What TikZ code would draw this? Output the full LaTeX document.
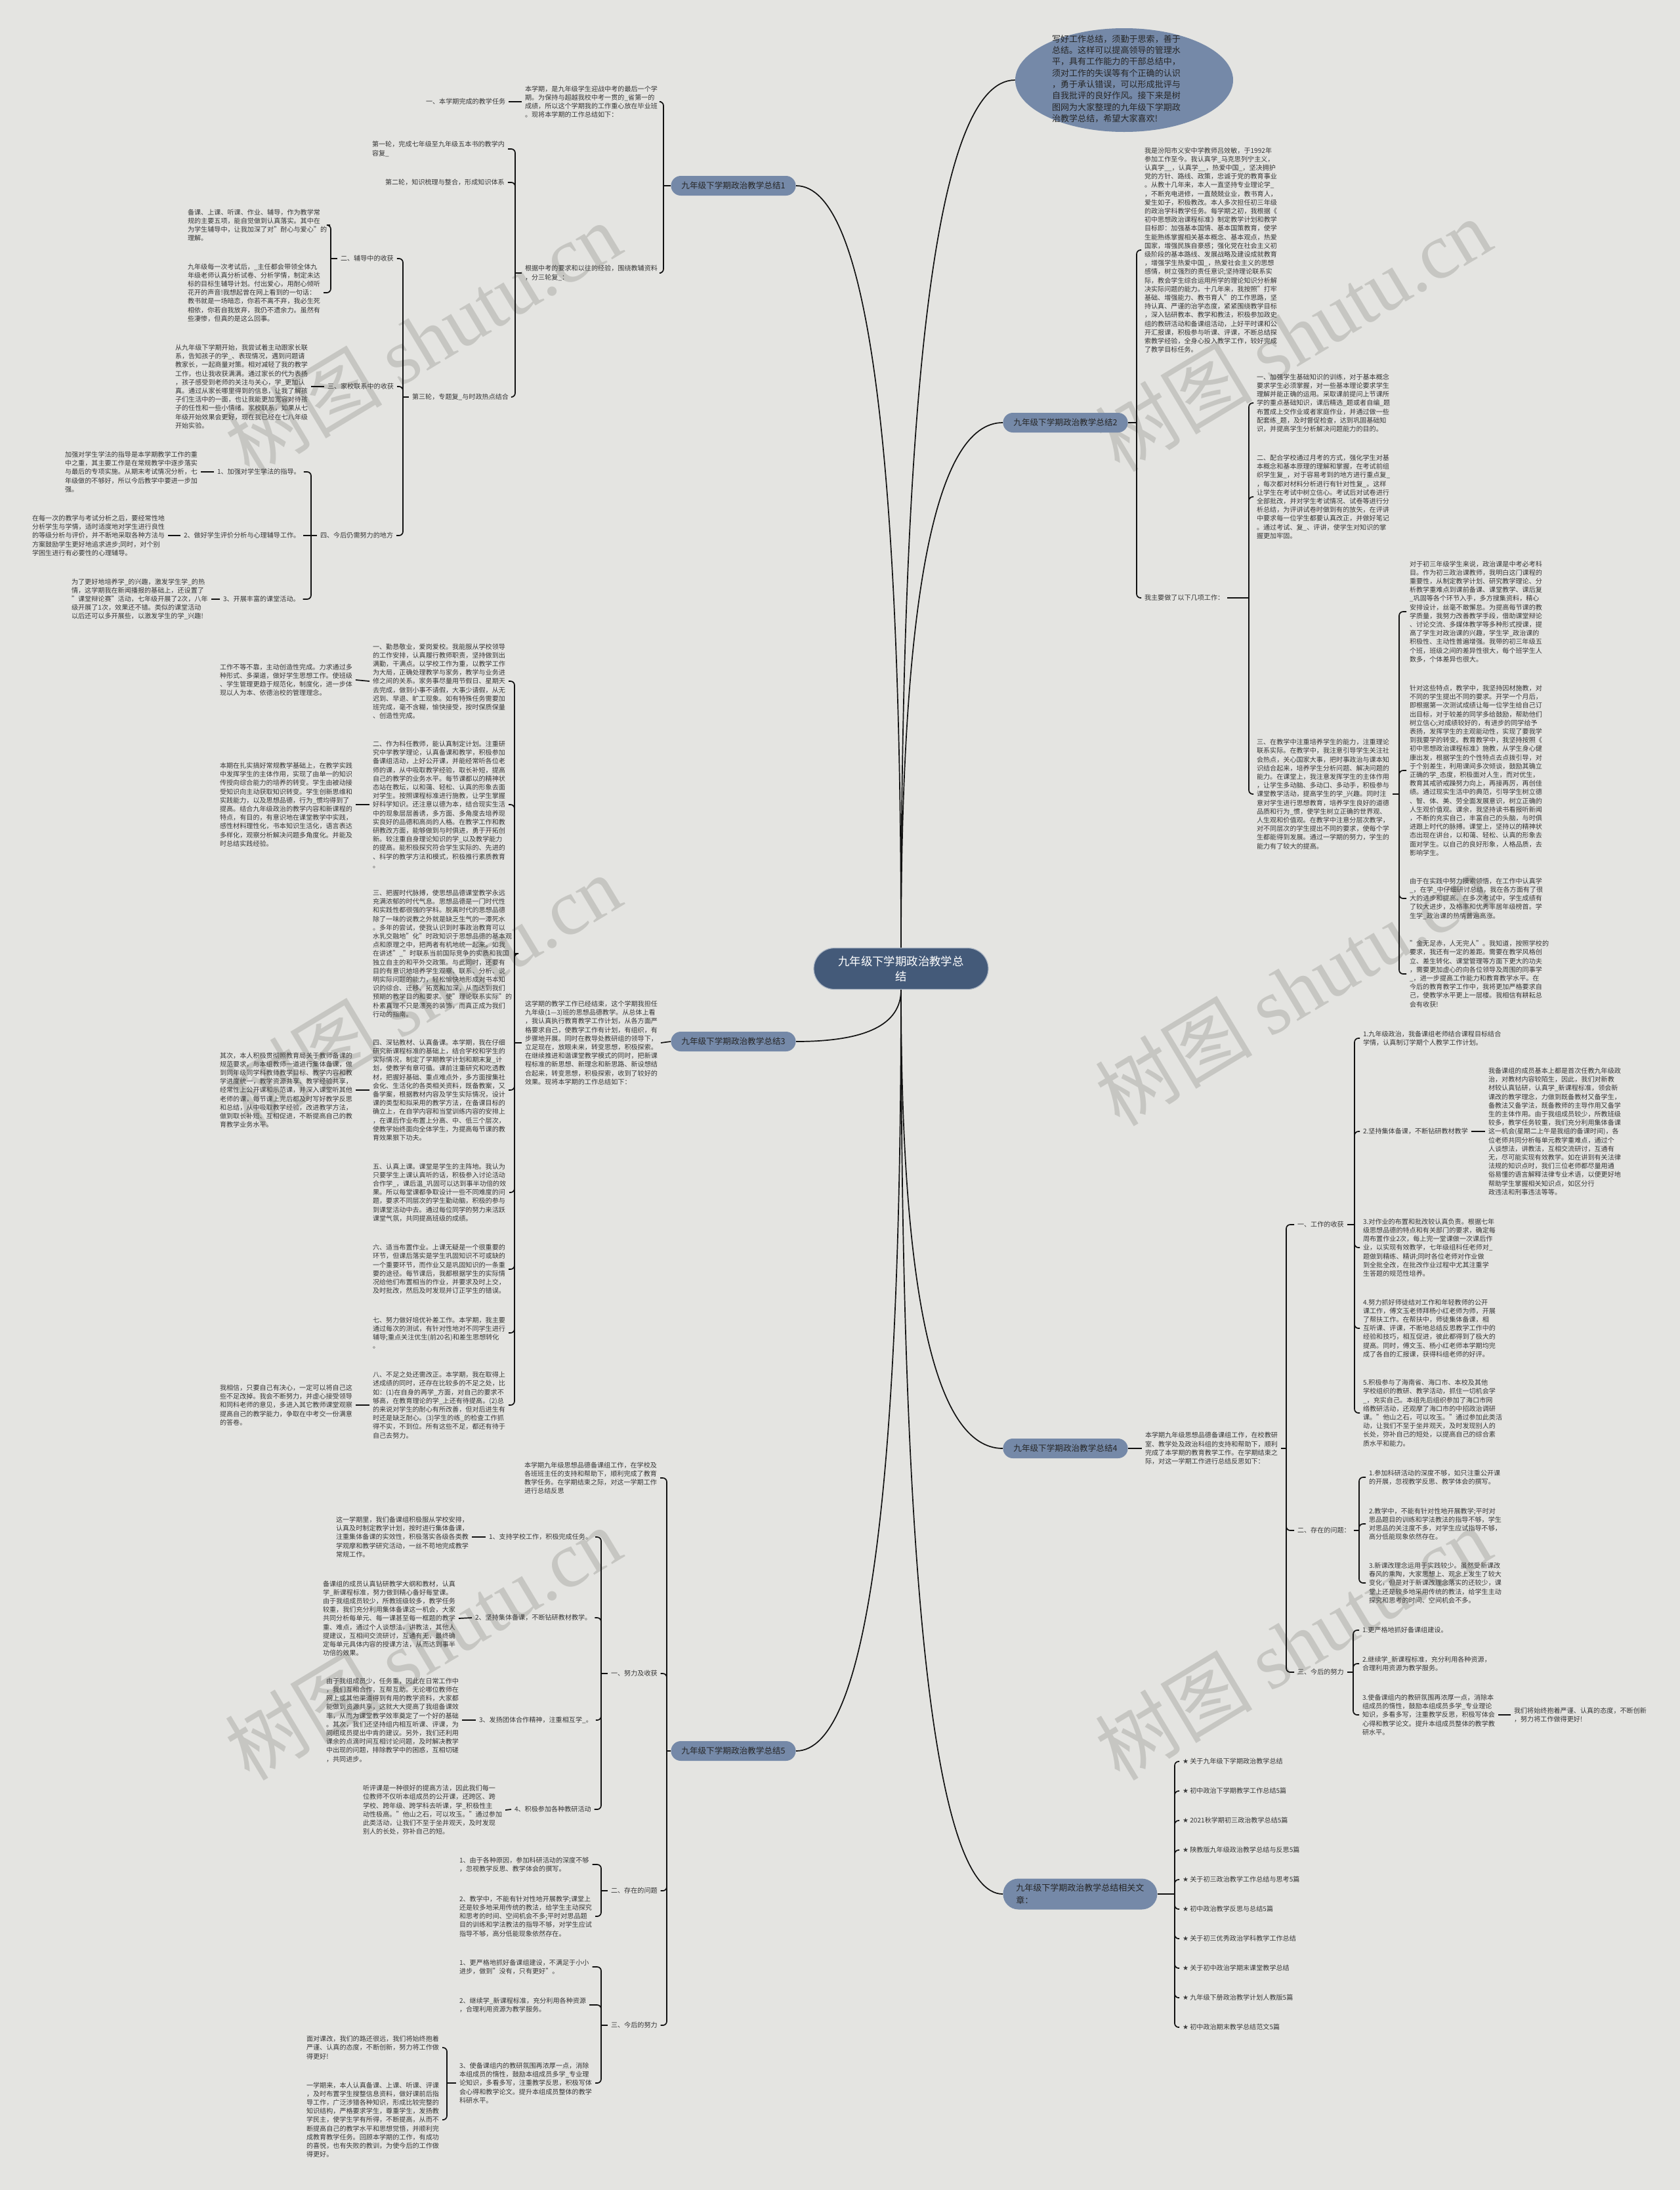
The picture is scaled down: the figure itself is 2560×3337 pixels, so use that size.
\documentclass[tikz,border=0pt]{standalone}
\usepackage{fontspec}
\setmainfont{Noto Sans CJK SC}
\newfontfamily\symf{DejaVu Sans}
\newfontfamily\wmlat{Liberation Serif}
\usetikzlibrary{shapes.geometric}
\definecolor{bgc}{HTML}{E4E4E1}
\definecolor{tcol}{HTML}{363636}
\definecolor{linec}{HTML}{111111}
\definecolor{pillc}{HTML}{7589A8}
\definecolor{pilltxt}{HTML}{262626}
\definecolor{centc}{HTML}{445A79}
\definecolor{wmc}{HTML}{C6C6C2}
\tikzset{
 txt/.style={inner sep=0pt, outer sep=2.5pt, xshift=-2.5pt, anchor=west, align=left, text=tcol, font=\fontsize{5.05}{6.6}\selectfont},
 pill/.style={rounded corners=7.5pt, fill=pillc, minimum height=15pt, inner xsep=8pt, inner ysep=0pt, text=pilltxt, font=\fontsize{6.3}{9.8}\selectfont, align=left},
 pilltwo/.style={rounded corners=11.75pt, fill=pillc, minimum height=23.5pt, inner xsep=10pt, inner ysep=2pt, text=pilltxt, font=\fontsize{6.5}{9.6}\selectfont, align=left},
 cnode/.style={fill=centc, draw=white!55!centc, line width=0.6pt, rounded corners=15.75pt, minimum width=133pt, minimum height=31.5pt, text=white, font=\fontsize{8.7}{11.65}\selectfont, align=center},
 conn/.style={draw=linec, line width=0.85pt, rounded corners=3pt},
 mconn/.style={draw=linec, line width=0.85pt},
 wm/.style={rotate=31, text=wmc, font=\fontsize{60}{60}\selectfont, inner sep=0pt},
}
\newcommand\lkL[2]{\draw[conn] (#1) -- (#1 |- #2.east) -- (#2.east);}
\newcommand\lkR[2]{\draw[conn] (#1) -- (#1 |- #2.west) -- (#2.west);}
\begin{document}
\begin{tikzpicture}[x=0.5pt,y=-0.5pt]
\useasboundingbox (0,0) rectangle (2560,3337);
\fill[bgc] (0,0) rectangle (2560,3337);
% watermarks
\node[wm] (w1) at (644,516) {树图 {\wmlat shutu.cn}};
\node[wm] (w2) at (644,1510) {树图 {\wmlat shutu.cn}};
\node[wm] (w3) at (644,2504) {树图 {\wmlat shutu.cn}};
\node[wm] (w4) at (1970,510) {树图 {\wmlat shutu.cn}};
\node[wm] (w5) at (1970,1507) {树图 {\wmlat shutu.cn}};
\node[wm] (w6) at (1970,2504) {树图 {\wmlat shutu.cn}};

% center and branches
\node[cnode] (C) at (1373,1476) {九年级下学期政治教学总\\结};
\node[ellipse, fill=pillc, minimum width=166pt, minimum height=79pt, inner sep=0pt] (E) at (1713,122) {};
\node[inner sep=0pt, align=left, text=pilltxt, font=\fontsize{6.53}{8.65}\selectfont] (Et) at (1701,120) {写好工作总结，须勤于思索，善于\\%
总结。这样可以提高领导的管理水\\%
平，具有工作能力的干部总结中，\\%
须对工作的失误等有个正确的认识\\%
，勇于承认错误，可以形成批评与\\%
自我批评的良好作风。接下来是树\\%
图网为大家整理的九年级下学期政\\%
治教学总结，希望大家喜欢!};
\node[pill, anchor=east] (B1) at (1213,283) {九年级下学期政治教学总结1};
\node[pill, anchor=west] (B2) at (1528,644) {九年级下学期政治教学总结2};
\node[pill, anchor=east] (B3) at (1213,1587) {九年级下学期政治教学总结3};
\node[pill, anchor=west] (B4) at (1528,2207) {九年级下学期政治教学总结4};
\node[pill, anchor=east] (B5) at (1213,2668) {九年级下学期政治教学总结5};
\node[pilltwo, anchor=west] (BR) at (1528,2886) {九年级下学期政治教学总结相关文\\章：};

\draw[mconn] (C.north) .. controls (1373,578) and (1427,122) .. (E.west);
\draw[mconn] (C.north) .. controls (1373,670) and (1320,283) .. (B1.east);
\draw[mconn] (C.north) .. controls (1373,911) and (1425,644) .. (B2.west);
\draw[mconn] (C.south) .. controls (1373,1561) and (1320,1587) .. (B3.east);
\draw[mconn] (C.south) .. controls (1373,1974) and (1425,2207) .. (B4.west);
\draw[mconn] (C.south) .. controls (1373,2281) and (1320,2668) .. (B5.east);
\draw[mconn] (C.south) .. controls (1373,2427) and (1425,2886) .. (BR.west);

% ===== Branch 1 =====
\node[txt] (t1a) at (800,155) {本学期，是九年级学生迎战中考的最后一个学\\%
期。为保持与超越我校中考一贯的\_省第一的\\%
成绩，所以这个学期我的工作重心放在毕业班\\%
。现将本学期的工作总结如下：};
\node[txt] (l1a) at (649,155) {一、本学期完成的教学任务};
\draw[conn] (t1a.west) -- (l1a.east);
\node[txt] (t1b) at (800,416) {根据中考的要求和以往的经验，围绕教辅资料\\%
，分三轮复\_：};
\coordinate (j1) at (1011,283);
\draw[conn] (B1.west) -- (j1);
\lkL{j1}{t1a}
\lkL{j1}{t1b}
\node[txt] (l1b1) at (567,227) {第一轮，完成七年级至九年级五本书的教学内\\%
容复\_};
\node[txt] (l1b2) at (587,278) {第二轮，知识梳理与整合，形成知识体系};
\node[txt] (l1b3) at (628,605) {第三轮，专题复\_与时政热点结合};
\coordinate (j1b) at (785,416);
\draw[conn] (t1b.west) -- (j1b);
\lkL{j1b}{l1b1}
\lkL{j1b}{l1b2}
\lkL{j1b}{l1b3}
\node[txt] (l2) at (519,394) {二、辅导中的收获};
\node[txt] (l3) at (499,589) {三、家校联系中的收获};
\node[txt] (l4) at (488,816) {四、今后仍需努力的地方};
\coordinate (j1c) at (614,605);
\draw[conn] (l1b3.west) -- (j1c);
\lkL{j1c}{l2}
\lkL{j1c}{l3}
\lkL{j1c}{l4}
\node[txt] (t2a) at (286,343) {备课、上课、听课、作业、辅导，作为教学常\\%
规的主要五项，能自觉做到认真落实。其中在\\%
为学生辅导中，让我加深了对"耐心与爱心"的\\%
理解。};
\node[txt] (t2b) at (286,446) {九年级每一次考试后，\_主任都会带领全体九\\%
年级老师认真分析试卷、分析学情，制定未达\\%
标的目标生辅导计划。付出爱心，用耐心倾听\\%
花开的声音!我想起曾在网上看到的一句话：\\%
教书就是一场暗恋，你若不离不弃，我必生死\\%
相依，你若自我放弃，我仍不遗余力。虽然有\\%
些凄惨，但真的是这么回事。};
\coordinate (j2a) at (504,394);
\draw[conn] (l2.west) -- (j2a);
\lkL{j2a}{t2a}
\lkL{j2a}{t2b}
\node[txt] (t3) at (267,589) {从九年级下学期开始，我尝试着主动跟家长联\\%
系，告知孩子的学\_、表现情况，遇到问题请\\%
教家长，一起商量对策。相对减轻了我的教学\\%
工作，也让我收获满满。通过家长的代为表扬\\%
，孩子感受到老师的关注与关心，学\_更加认\\%
真。通过从家长哪里得到的信息，让我了解孩\\%
子们生活中的一面，也让我能更加宽容对待孩\\%
子的任性和一些小情绪。家校联系，如果从七\\%
年级开始效果会更好，现在我已经在七八年级\\%
开始实验。};
\draw[conn] (l3.west) -- (t3.east);
\node[txt] (l4a) at (331,719) {1、加强对学生学法的指导。};
\node[txt] (l4b) at (280,816) {2、做好学生评价分析与心理辅导工作。};
\node[txt] (l4c) at (340,913) {3、开展丰富的课堂活动。};
\coordinate (j4a) at (474,816);
\draw[conn] (l4.west) -- (j4a);
\lkL{j4a}{l4a}
\draw[conn] (j4a) -- (l4b.east);
\lkL{j4a}{l4c}
\node[txt] (t4a) at (99,719) {加强对学生学法的指导是本学期教学工作的重\\%
中之重，其主要工作是在常规教学中逐步落实\\%
与最后的专项实施。从期末考试情况分析，七\\%
年级做的不够好，所以今后教学中要进一步加\\%
强。};
\draw[conn] (l4a.west) -- (t4a.east);
\node[txt] (t4b) at (49,816) {在每一次的教学与考试分析之后，要经常性地\\%
分析学生与学情，适时适度地对学生进行良性\\%
的等级分析与评价，并不断地采取各种方法与\\%
方案鼓励学生更好地追求进步;同时，对个别\\%
学困生进行有必要性的心理辅导。};
\draw[conn] (l4b.west) -- (t4b.east);
\node[txt] (t4c) at (109,913) {为了更好地培养学\_的兴趣，激发学生学\_的热\\%
情，这学期我在新闻播报的基础上，还设置了\\%
"课堂辩论赛"活动，七年级开展了2次，八年\\%
级开展了1次，效果还不错。类似的课堂活动\\%
以后还可以多开展些，以激发学生的学\_兴趣!};
\draw[conn] (l4c.west) -- (t4c.east);

% ===== Branch 3 =====
\node[txt] (t30) at (800,1589) {这学期的教学工作已经结束，这个学期我担任\\%
九年级(1—3)班的思想品德教学。从总体上看\\%
，我认真执行教育教学工作计划，从各方面严\\%
格要求自己，使教学工作有计划，有组织，有\\%
步骤地开展。同时在教导处教研组的领导下，\\%
立足现在，放眼未来，转变思想，积极探索。\\%
在继续推进和谐课堂教学模式的同时，把新课\\%
程标准的新思想、新理念和新思路、新设想结\\%
合起来，转变思想，积极探索，收到了较好的\\%
效果。现将本学期的工作总结如下：};
\draw[conn] (B3.west) -- (t30.east);
\coordinate (j3) at (784,1589);
\draw[conn] (t30.west) -- (j3);
\node[txt] (t31) at (568,1038) {一、勤恳敬业，爱岗爱校。我能服从学校领导\\%
的工作安排，认真履行教师职责，坚持做到出\\%
满勤，干满点。以学校工作为重，以教学工作\\%
为大局，正确处理教学与家务，教学与业务进\\%
修之间的关系。家务事尽量用节假日、星期天\\%
去完成，做到小事不请假，大事少请假，从无\\%
迟到、早退、旷工现象。如有特殊任务需要加\\%
班完成，毫不含糊，愉快接受，按时保质保量\\%
、创造性完成。};
\node[txt] (t32) at (568,1226) {二、作为科任教师，能认真制定计划。注重研\\%
究中学教学理论，认真备课和教学，积极参加\\%
备课组活动，上好公开课，并能经常听各位老\\%
师的课，从中吸取教学经验，取长补短，提高\\%
自己的教学的业务水平。每节课都以的精神状\\%
态站在教坛，以和蔼、轻松、认真的形象去面\\%
对学生。按照课程标准进行施教，让学生掌握\\%
好科学知识。还注意以德为本，结合现实生活\\%
中的现象层层善诱，多方面、多角度去培养现\\%
实良好的品德和高尚的人格。在教学工作和教\\%
研教改方面，能够做到与时俱进，勇于开拓创\\%
新。较注重自身理论知识的学\_以及教学能力\\%
的提高。能积极探究符合学生实际的、先进的\\%
、科学的教学方法和模式，积极推行素质教育\\%
。};
\node[txt] (t33) at (568,1453) {三、把握时代脉搏，使思想品德课堂教学永远\\%
充满浓郁的时代气息。思想品德是一门时代性\\%
和实践性都很强的学科。脱离时代的思想品德\\%
除了一味的说教之外就是缺乏生气的一潭死水\\%
。多年的尝试，使我认识到时事政治教育可以\\%
水乳交融地"化"时政知识于思想品德的基本观\\%
点和原理之中，把两者有机地统一起来。如我\\%
在讲述"\_"时联系当前国际竞争的实质和我国\\%
独立自主的和平外交政策。与此同时，还要有\\%
目的有意识地培养学生观察、联系、分析、说\\%
明实际问题的能力，轻松愉快地形成对书本知\\%
识的综合、迁移、拓宽和加深，从而达到我们\\%
预期的教学目的和要求。使"理论联系实际"的\\%
朴素真理不只是漂亮的装饰，而真正成为我们\\%
行动的指南。};
\node[txt] (t34) at (568,1661) {四、深钻教材、认真备课。本学期，我在仔细\\%
研究新课程标准的基础上，结合学校和学生的\\%
实际情况，制定了学期教学计划和期末复\_计\\%
划，使教学有章可循。课前注重研究和吃透教\\%
材，把握好基础、重点难点外，多方面搜集社\\%
会化、生活化的各类相关资料，既备教案，又\\%
备学案，根据教材内容及学生实际情况，设计\\%
课的类型和拟采用的教学方法，在备课目标的\\%
确立上，在自学内容和当堂训练内容的安排上\\%
，在课后作业布置上分高、中、低三个层次，\\%
使教学始终面向全体学生，为提高每节课的教\\%
育效果狠下功夫。};
\node[txt] (t35) at (568,1817) {五、认真上课。课堂是学生的主阵地。我认为\\%
只要学生上课认真听的话，积极参入讨论活动\\%
合作学\_，课后温\_巩固可以达到事半功倍的效\\%
果。所以每堂课都争取设计一些不同难度的问\\%
题，要求不同层次的学生勤动脑，积极的参与\\%
到课堂活动中去。通过每位同学的努力来活跃\\%
课堂气氛，共同提高班级的成绩。};
\node[txt] (t36) at (568,1934) {六、适当布置作业。上课无疑是一个很重要的\\%
环节，但课后落实是学生巩固知识不可或缺的\\%
一个重要环节，而作业又是巩固知识的一条重\\%
要的途径。每节课后，我都根据学生的实际情\\%
况给他们布置相当的作业，并要求及时上交，\\%
及时批改，然后及时发现并订正学生的错误。};
\node[txt] (t37) at (568,2031) {七、努力做好培优补差工作。本学期，我主要\\%
通过每次的测试，有针对性地对不同学生进行\\%
辅导;重点关注优生(前20名)和差生思想转化\\%
。};
\node[txt] (t38) at (568,2141) {八、不足之处还需改正。本学期，我在取得上\\%
述成绩的同时，还存在比较多的不足之处，比\\%
如：(1)在自身的再学\_方面，对自己的要求不\\%
够高，在教育理论的学\_上还有待提高。(2)总\\%
的来说对学生的耐心有所改善，但对后进生有\\%
时还是缺乏耐心。(3)学生的练\_的检查工作抓\\%
得不实，不到位。所有这些不足，都还有待于\\%
自己去努力。};
\lkL{j3}{t31}
\lkL{j3}{t32}
\lkL{j3}{t33}
\lkL{j3}{t34}
\lkL{j3}{t35}
\lkL{j3}{t36}
\lkL{j3}{t37}
\lkL{j3}{t38}
\node[txt] (u31) at (335,1036) {工作不等不靠，主动创造性完成。力求通过多\\%
种形式、多渠道，做好学生思想工作。使班级\\%
、学生管理更趋于规范化，制度化，进一步体\\%
现以人为本、依德治校的管理理念。};
\draw[conn] (t31.west) -- (u31.east);
\node[txt] (u32) at (335,1226) {本期在扎实搞好常规教学基础上，在教学实践\\%
中发挥学生的主体作用，实现了由单一的知识\\%
传授向综合能力的培养的转变。学生由被动接\\%
受知识向主动获取知识转变。学生创新思维和\\%
实践能力，以及思想品德，行为\_惯均得到了\\%
提高。结合九年级政治的教学内容和新课程的\\%
特点，有目的，有意识地在课堂教学中实践，\\%
感性材料理性化，书本知识生活化，语言表达\\%
多样化，观察分析解决问题多角度化。并能及\\%
时总结实践经验。};
\draw[conn] (t32.west) -- (u32.east);
\node[txt] (u34) at (335,1661) {其次，本人积极贯彻照教育局关于教师备课的\\%
规范要求，与本组教师一道进行集体备课，做\\%
到同年级同学科教师教学目标、教学内容和教\\%
学进度统一，教学资源共享、教学经验共享，\\%
经常性上公开课和示范课，并深入课堂听其他\\%
老师的课，每节课上完后都及时写好教学反思\\%
和总结，从中吸取教学经验，改进教学方法，\\%
做到取长补短、互相促进，不断提高自己的教\\%
育教学业务水平。};
\draw[conn] (t34.west) -- (u34.east);
\node[txt] (u38) at (335,2141) {我相信，只要自己有决心，一定可以将自己这\\%
些不足改掉。我会不断努力，并虚心接受领导\\%
和同科老师的意见，多进入其它教师课堂观察\\%
提高自己的教学能力，争取在中考交一份满意\\%
的答卷。};
\draw[conn] (t38.west) -- (u38.east);

% ===== Branch 5 =====
\coordinate (j5) at (1016,2668);
\draw[conn] (B5.west) -- (j5);
\node[txt] (t50) at (799,2252) {本学期九年级思想品德备课组工作，在学校及\\%
各班班主任的支持和帮助下，顺利完成了教育\\%
教学任务。在学期结束之际，对这一学期工作\\%
进行总结反思};
\node[txt] (l51) at (931,2550) {一、努力及收获};
\node[txt] (l52) at (931,2881) {二、存在的问题};
\node[txt] (l53) at (931,3086) {三、今后的努力};
\lkL{j5}{t50}
\lkL{j5}{l51}
\lkL{j5}{l52}
\lkL{j5}{l53}
\coordinate (j51) at (916,2550);
\draw[conn] (l51.west) -- (j51);
\node[txt] (m1) at (745,2342) {1、支持学校工作，积极完成任务。};
\node[txt] (m2) at (724,2465) {2、坚持集体备课，不断钻研教材教学。};
\node[txt] (m3) at (730,2621) {3、发扬团体合作精神，注重相互学\_。};
\node[txt] (m4) at (784,2757) {4、积极参加各种教研活动};
\lkL{j51}{m1}
\lkL{j51}{m2}
\lkL{j51}{m3}
\lkL{j51}{m4}
\node[txt] (u1) at (512,2342) {这一学期里，我们备课组积极服从学校安排，\\%
认真及时制定教学计划，按时进行集体备课，\\%
注重集体备课的实效性，积极落实各级各类教\\%
学观摩和教学研究活动，一丝不苟地完成教学\\%
常规工作。};
\draw[conn] (m1.west) -- (u1.east);
\node[txt] (u2) at (492,2466) {备课组的成员认真钻研教学大纲和教材，认真\\%
学\_新课程标准，努力做到精心备好每堂课。\\%
由于我组成员较少，所教班级较多，教学任务\\%
较重，我们充分利用集体备课这一机会，大家\\%
共同分析每单元、每一课甚至每一框题的教学\\%
重、难点，通过个人谈想法，讲教法，其他人\\%
提建议，互相间交流研讨，互通有无，最终确\\%
定每单元具体内容的授课方法，从而达到事半\\%
功倍的效果。};
\draw[conn] (m2.west) -- (u2.east);
\node[txt] (u3) at (497,2621) {由于我组成员少，任务重，因此在日常工作中\\%
，我们互相合作，互帮互助。无论哪位教师在\\%
网上或其他渠道得到有用的教学资料，大家都\\%
能做到资源共享，这就大大提高了我组备课效\\%
率，从而为课堂教学效率奠定了一个好的基础\\%
。其次，我们还坚持组内相互听课、评课，为\\%
同组成员提出中肯的建议。另外，我们还利用\\%
课余的点滴时间互相讨论问题，及时解决教学\\%
中出现的问题，排除教学中的困惑，互相切磋\\%
，共同进步。};
\draw[conn] (m3.west) -- (u3.east);
\node[txt] (u4) at (553,2758) {听评课是一种很好的提高方法，因此我们每一\\%
位教师不仅听本组成员的公开课，还跨区、跨\\%
学校、跨年级、跨学科去听课，学\_积极性主\\%
动性极高。"他山之石，可以攻玉。"通过参加\\%
此类活动，让我们不至于坐井观天，及时发现\\%
别人的长处，弥补自己的短。};
\draw[conn] (m4.west) -- (u4.east);
\coordinate (j52) at (916,2881);
\draw[conn] (l52.west) -- (j52);
\node[txt] (n1) at (700,2841) {1、由于各种原因，参加科研活动的深度不够\\%
，忽视教学反思、教学体会的撰写。};
\node[txt] (n2) at (700,2920) {2、教学中，不能有针对性地开展教学;课堂上\\%
还是较多地采用传统的教法，给学生主动探究\\%
和思考的时间、空间机会不多;平时对思品题\\%
目的训练和学法教法的指导不够，对学生应试\\%
指导不够，高分低能现象依然存在。};
\lkL{j52}{n1}
\lkL{j52}{n2}
\coordinate (j53) at (916,3086);
\draw[conn] (l53.west) -- (j53);
\node[txt] (o1) at (700,2997) {1、更严格地抓好备课组建设，不满足于小小\\%
进步，做到"没有，只有更好"。};
\node[txt] (o2) at (700,3055) {2、继续学\_新课程标准，充分利用各种资源\\%
，合理利用资源为教学服务。};
\node[txt] (o3) at (700,3174) {3、使备课组内的教研氛围再浓厚一点，消除\\%
本组成员的惰性，鼓励本组成员多学\_专业理\\%
论知识，多看多写，注重教学反思，积极写体\\%
会心得和教学论文。提升本组成员整体的教学\\%
科研水平。};
\lkL{j53}{o1}
\lkL{j53}{o2}
\lkL{j53}{o3}
\coordinate (j53c) at (681,3174);
\draw[conn] (o3.west) -- (j53c);
\node[txt] (p1) at (467,3120) {面对课改，我们的路还很远，我们将始终抱着\\%
严谨、认真的态度，不断创新，努力将工作做\\%
得更好!};
\node[txt] (p2) at (467,3230) {一学期来，本人认真备课、上课、听课、评课\\%
，及时布置学生搜整信息资料，做好课前后指\\%
导工作，广泛涉猎各种知识，形成比较完整的\\%
知识结构，严格要求学生，尊重学生，发扬教\\%
学民主，使学生学有所得，不断提高，从而不\\%
断提高自己的教学水平和思想觉悟，并顺利完\\%
成教育教学任务。回顾本学期的工作，有成功\\%
的喜悦，也有失败的教训，为使今后的工作做\\%
得更好。};
\lkL{j53c}{p1}
\lkL{j53c}{p2}

% ===== Branch 2 =====
\coordinate (j2) at (1732,644);
\draw[conn] (B2.east) -- (j2);
\node[txt] (r1) at (1744,381) {我是汾阳市义安中学教师吕效敏，于1992年\\%
参加工作至今。我认真学\_马克思列宁主义，\\%
认真学\_\_，认真学\_\_，热爱中国\_，坚决拥护\\%
党的方针、路线、政策，忠诚于党的教育事业\\%
。从教十几年来，本人一直坚持专业理论学\_\\%
，不断充电进修，一直兢兢业业，教书育人，\\%
爱生如子，积极教改。本人多次担任初三年级\\%
的政治学科教学任务。每学期之初，我根据《\\%
初中思想政治课程标准》制定教学计划和教学\\%
目标即：加强基本国情、基本国策教育，使学\\%
生能熟练掌握相关基本概念、基本观点，热爱\\%
国家，增强民族自豪感；强化党在社会主义初\\%
级阶段的基本路线、发展战略及建设成就教育\\%
，增强学生热爱中国\_，热爱社会主义的思想\\%
感情，树立强烈的责任意识;坚持理论联系实\\%
际，教会学生综合运用所学的理论知识分析解\\%
决实际问题的能力。十几年来，我按照"打牢\\%
基础、增强能力、教书育人"的工作思路，坚\\%
持认真、严谨的治学态度，紧紧围绕教学目标\\%
，深入钻研教本、教学和教法，积极参加政史\\%
组的教研活动和备课组活动，上好平时课和公\\%
开汇报课，积极参与听课、评课，不断总结探\\%
索教学经验，全身心投入教学工作，较好完成\\%
了教学目标任务。};
\node[txt] (r2) at (1744,911) {我主要做了以下几项工作：};
\lkR{j2}{r1}
\lkR{j2}{r2}
\coordinate (j2b) at (1903,911);
\draw[conn] (r2.east) -- (j2b);
\node[txt] (s1) at (1915,614) {一、加强学生基础知识的训练，对于基本概念\\%
要求学生必须掌握，对一些基本理论要求学生\\%
理解并能正确的运用。采取课前提问上节课所\\%
学的重点基础知识，课后精选\_题或者自编\_题\\%
布置成上交作业或者家庭作业，并通过做一些\\%
配套练\_题，及时督促检查，达到巩固基础知\\%
识，并提高学生分析解决问题能力的目的。};
\node[txt] (s2) at (1915,757) {二、配合学校通过月考的方式，强化学生对基\\%
本概念和基本原理的理解和掌握，在考试前组\\%
织学生复\_，对于容易考到的地方进行重点复\_\\%
，每次都对材料分析进行有针对性复\_。这样\\%
让学生在考试中树立信心。考试后对试卷进行\\%
全部批改，并对学生考试情况、试卷等进行分\\%
析总结，为评讲试卷时做到有的放矢，在评讲\\%
中要求每一位学生都要认真改正，并做好笔记\\%
。通过考试、复\_、评讲，使学生对知识的掌\\%
握更加牢固。};
\node[txt] (s3) at (1915,1210) {三、在教学中注重培养学生的能力，注重理论\\%
联系实际。在教学中，我注意引导学生关注社\\%
会热点，关心国家大事，把时事政治与课本知\\%
识结合起来，培养学生分析问题、解决问题的\\%
能力。在课堂上，我注意发挥学生的主体作用\\%
，让学生多动脑、多动口、多动手，积极参与\\%
课堂教学活动，提高学生的学\_兴趣。同时注\\%
意对学生进行思想教育，培养学生良好的道德\\%
品质和行为\_惯，使学生树立正确的世界观、\\%
人生观和价值观。在教学中注意分层次教学，\\%
对不同层次的学生提出不同的要求，使每个学\\%
生都能得到发展。通过一学期的努力，学生的\\%
能力有了较大的提高。};
\lkR{j2b}{s1}
\lkR{j2b}{s2}
\lkR{j2b}{s3}
\coordinate (j2c) at (2132,1210);
\draw[conn] (s3.east) -- (j2c);
\node[txt] (v1) at (2148,932) {对于初三年级学生来说，政治课是中考必考科\\%
目。作为初三政治课教师，我明白这门课程的\\%
重要性，从制定教学计划、研究教学理论、分\\%
析教学重难点到课前备课、课堂教学、课后复\\%
\_巩固等各个环节入手，多方搜集资料，精心\\%
安排设计，丝毫不敢懈怠。为提高每节课的教\\%
学质量，我努力改善教学手段，借助课堂辩论\\%
、讨论交流、多媒体教学等多种形式授课，提\\%
高了学生对政治课的兴趣，学生学\_政治课的\\%
积极性、主动性普遍增强。我带的初三年级五\\%
个班，班级之间的差异性很大，每个班学生人\\%
数多，个体差异也很大。};
\node[txt] (v2) at (2148,1174) {针对这些特点，教学中，我坚持因材施教，对\\%
不同的学生提出不同的要求。开学一个月后，\\%
即根据第一次测试成绩让每一位学生给自己订\\%
出目标，对于较差的同学多给鼓励，帮助他们\\%
树立信心;对成绩较好的，有进步的同学给予\\%
表扬，发挥学生的主观能动性，实现了要我学\\%
到我要学的转变。教育教学中，我坚持按照《\\%
初中思想政治课程标准》施教，从学生身心健\\%
康出发，根据学生的个性特点去点拨引导，对\\%
于个别差生，利用课间多次倾谈，鼓励其确立\\%
正确的学\_态度，积极面对人生，而对优生，\\%
教育其戒骄戒躁努力向上，再接再厉，再创佳\\%
绩。通过现实生活中的典范，引导学生树立德\\%
、智、体、美、劳全面发展意识，树立正确的\\%
人生观价值观。课余，我坚持读书看报听新闻\\%
，不断的充实自己，丰富自己的头脑，与时俱\\%
进跟上时代的脉搏。课堂上，坚持以的精神状\\%
态出现在讲台，以和蔼、轻松、认真的形象去\\%
面对学生。以自己的良好形象，人格品质，去\\%
影响学生。};
\node[txt] (v3) at (2148,1369) {由于在实践中努力摸索领悟，在工作中认真学\\%
\_，在学\_中仔细研讨总结，我在各方面有了很\\%
大的进步和提高。在多次考试中，学生成绩有\\%
了较大进步，及格率和优秀率居年级榜首。学\\%
生学\_政治课的热情普遍高涨。};
\node[txt] (v4) at (2148,1484) {"金无足赤，人无完人"。我知道，按照学校的\\%
要求，我还有一定的差距。需要在教学风格创\\%
立、差生转化、课堂管理等方面下更大的功夫\\%
，需要更加虚心的向各位领导及周围的同事学\\%
\_，进一步提高工作能力和教育教学水平。在\\%
今后的教育教学工作中，我将更加严格要求自\\%
己，使教学水平更上一层楼。我相信有耕耘总\\%
会有收获!};
\lkR{j2c}{v1}
\lkR{j2c}{v2}
\lkR{j2c}{v3}
\lkR{j2c}{v4}

% ===== Branch 4 =====
\node[txt] (w0) at (1745,2207) {本学期九年级思想品德备课组工作，在校教研\\%
室、教学处及政治科组的支持和帮助下，顺利\\%
完成了本学期的教育教学工作。在学期结束之\\%
际，对这一学期工作进行总结反思如下：};
\draw[conn] (B4.east) -- (w0.west);
\coordinate (j4) at (1960,2207);
\draw[conn] (w0.east) -- (j4);
\node[txt] (g1) at (1977,1866) {一、工作的收获};
\node[txt] (g2) at (1977,2332) {二、存在的问题：};
\node[txt] (g3) at (1977,2548) {三、今后的努力};
\lkR{j4}{g1}
\lkR{j4}{g2}
\lkR{j4}{g3}
\coordinate (j41) at (2064,1866);
\draw[conn] (g1.east) -- (j41);
\node[txt] (h1) at (2077,1582) {1.九年级政治，我备课组老师结合课程目标结合\\%
学情，认真制订学期个人教学工作计划。};
\node[txt] (h2) at (2077,1724) {2.坚持集体备课，不断钻研教材教学};
\node[txt] (h3) at (2077,1901) {3.对作业的布置和批改较认真负责。根据七年\\%
级思想品德的特点和有关部门的要求，确定每\\%
周布置作业2次，每上完一堂课做一次课后作\\%
业，以实现有效教学，七年级组科任老师对\_\\%
题做到精练、精讲;同时各位老师对作业做\\%
到全批全改，在批改作业过程中尤其注重学\\%
生答题的规范性培养。};
\node[txt] (h4) at (2077,2024) {4.努力抓好师徒结对工作和年轻教师的公开\\%
课工作，傅文玉老师拜杨小红老师为师，开展\\%
了帮扶工作。在帮扶中，师徒集体备课，相\\%
互听课、评课，不断地总结反思教学工作中的\\%
经验和技巧，相互促进，彼此都得到了极大的\\%
提高。同时，傅文玉、杨小红老师本学期均完\\%
成了各自的汇报课，获得科组老师的好评。};
\node[txt] (h5) at (2077,2153) {5.积极参与了海南省、海口市、本校及其他\\%
学校组织的教研、教学活动，抓住一切机会学\\%
\_，充实自己。本组先后组织参加了海口市网\\%
络教研活动，还观摩了海口市的中招政治调研\\%
课。"他山之石，可以攻玉。"通过参加此类活\\%
动，让我们不至于坐井观天，及时发现别人的\\%
长处，弥补自己的短处，以提高自己的综合素\\%
质水平和能力。};
\lkR{j41}{h1}
\lkR{j41}{h2}
\lkR{j41}{h3}
\lkR{j41}{h4}
\lkR{j41}{h5}
\node[txt] (h2c) at (2268,1724) {我备课组的成员基本上都是首次任教九年级政\\%
治，对教材内容较陌生，因此，我们对新教\\%
材较认真钻研，认真学\_新课程标准，领会新\\%
课改的教学理念，力做到既备教材又备学生，\\%
备教法又备学法，既备教师的主导作用又备学\\%
生的主体作用。由于我组成员较少，所教班级\\%
较多，教学任务较重，我们充分利用集体备课\\%
这一机会(星期二上午是我组的备课时间)，各\\%
位老师共同分析每单元教学重难点，通过个\\%
人谈想法，讲教法，互相交流研讨，互通有\\%
无，尽可能实现有效教学。如在讲到有关法律\\%
法规的知识点时，我们三位老师都尽量用通\\%
俗易懂的语言解释法律专业术语，以便更好地\\%
帮助学生掌握相关知识点，如区分行\\%
政违法和刑事违法等等。};
\draw[conn] (h2.east) -- (h2c.west);
\coordinate (j42) at (2071,2332);
\draw[conn] (g2.east) -- (j42);
\node[txt] (i1) at (2086,2251) {1.参加科研活动的深度不够，如只注重公开课\\%
的开展，忽视教学反思、教学体会的撰写。};
\node[txt] (i2) at (2086,2322) {2.教学中，不能有针对性地开展教学;平时对\\%
思品题目的训练和学法教法的指导不够，学生\\%
对思品的关注度不多，对学生应试指导不够，\\%
高分低能现象依然存在。};
\node[txt] (i3) at (2086,2412) {3.新课改理念运用于实践较少。虽然受新课改\\%
春风的熏陶，大家思想上、观念上发生了较大\\%
变化，但是对于新课改理念落实的还较少，课\\%
堂上还是较多地采用传统的教法，给学生主动\\%
探究和思考的时间、空间机会不多。};
\lkR{j42}{i1}
\lkR{j42}{i2}
\lkR{j42}{i3}
\coordinate (j43) at (2062,2548);
\draw[conn] (g3.east) -- (j43);
\node[txt] (k1) at (2076,2484) {1.更严格地抓好备课组建设。};
\node[txt] (k2) at (2076,2535) {2.继续学\_新课程标准，充分利用各种资源，\\%
合理利用资源为教学服务。};
\node[txt] (k3) at (2076,2613) {3.使备课组内的教研氛围再浓厚一点，消除本\\%
组成员的惰性，鼓励本组成员多学\_专业理论\\%
知识，多看多写，注重教学反思，积极写体会\\%
心得和教学论文。提升本组成员整体的教学教\\%
研水平。};
\lkR{j43}{k1}
\lkR{j43}{k2}
\lkR{j43}{k3}
\node[txt] (k3c) at (2307,2613) {我们将始终抱着严谨、认真的态度，不断创新\\%
，努力将工作做得更好!};
\draw[conn] (k3.east) -- (k3c.west);

% ===== Related =====
\coordinate (jr) at (1790,2886);
\draw[conn] (BR.east) -- (jr);
\node[txt] (q1) at (1802,2684) {{\symf ★} 关于九年级下学期政治教学总结};
\node[txt] (q2) at (1802,2729) {{\symf ★} 初中政治下学期教学工作总结5篇};
\node[txt] (q3) at (1802,2774) {{\symf ★} 2021秋学期初三政治教学总结5篇};
\node[txt] (q4) at (1802,2819) {{\symf ★} 陕教版九年级政治教学总结与反思5篇};
\node[txt] (q5) at (1802,2864) {{\symf ★} 关于初三政治教学工作总结与思考5篇};
\node[txt] (q6) at (1802,2909) {{\symf ★} 初中政治教学反思与总结5篇};
\node[txt] (q7) at (1802,2954) {{\symf ★} 关于初三优秀政治学科教学工作总结};
\node[txt] (q8) at (1802,2999) {{\symf ★} 关于初中政治学期末课堂教学总结};
\node[txt] (q9) at (1802,3044) {{\symf ★} 九年级下册政治教学计划人教版5篇};
\node[txt] (q10) at (1802,3089) {{\symf ★} 初中政治期末教学总结范文5篇};
\foreach \q in {q1,q2,q3,q4,q5,q6,q7,q8,q9,q10} {\lkR{jr}{\q}}
\end{tikzpicture}
\end{document}
